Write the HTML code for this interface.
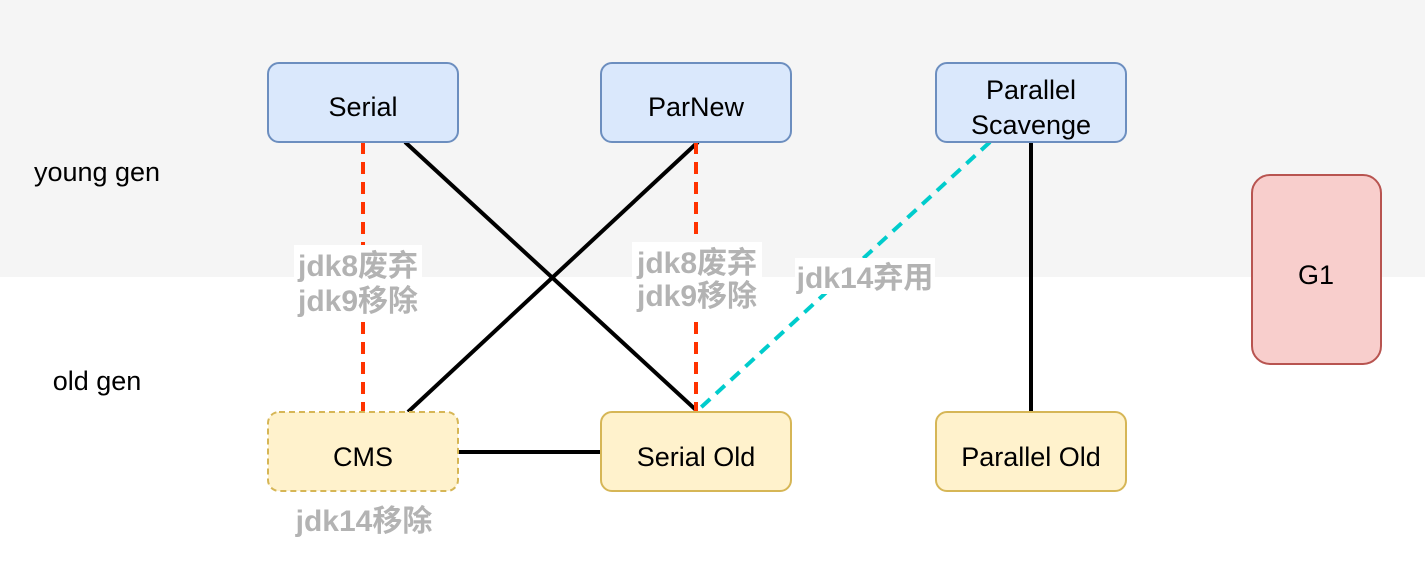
<!DOCTYPE html>
<html><head><meta charset="utf-8"><style>
body{margin:0;width:1425px;height:578px;overflow:hidden;background:#fff;font-family:"Liberation Sans","Noto Sans CJK SC",sans-serif;}
</style></head><body>
<svg width="1425" height="578" xmlns="http://www.w3.org/2000/svg" style="position:absolute;left:0;top:0">
<rect x="0" y="0" width="1425" height="277" fill="#f5f5f5"/>
<g stroke-width="4" fill="none">
<line x1="363" y1="142" x2="363" y2="412" stroke="#ff3300" stroke-dasharray="12,8"/>
<line x1="405" y1="142" x2="696" y2="410" stroke="#000"/>
<line x1="698" y1="142" x2="408" y2="412" stroke="#000"/>
<line x1="696" y1="142" x2="696" y2="412" stroke="#ff3300" stroke-dasharray="12,8"/>
<line x1="990" y1="142" x2="696" y2="412" stroke="#00cccc" stroke-dasharray="12,8"/>
<line x1="1031" y1="142" x2="1031" y2="412" stroke="#000"/>
<line x1="458" y1="452" x2="601" y2="452" stroke="#000"/>
</g>
<g stroke-width="2">
<rect x="268" y="63" width="190" height="79" rx="11" fill="#dae8fc" stroke="#6c8ebf"/>
<rect x="601" y="63" width="190" height="79" rx="11" fill="#dae8fc" stroke="#6c8ebf"/>
<rect x="936" y="63" width="190" height="79" rx="11" fill="#dae8fc" stroke="#6c8ebf"/>
<rect x="1252" y="175" width="129" height="189" rx="18" fill="#f8cecc" stroke="#b85450"/>
<rect x="268" y="412" width="190" height="79" rx="11" fill="#fff2cc" stroke="#d6b656" stroke-dasharray="6,4"/>
<rect x="601" y="412" width="190" height="79" rx="11" fill="#fff2cc" stroke="#d6b656"/>
<rect x="936" y="412" width="190" height="79" rx="11" fill="#fff2cc" stroke="#d6b656"/>
</g>
<rect x="294" y="245" width="128" height="76" fill="#fff"/>
<rect x="632" y="242" width="130" height="72" fill="#fff"/>
<rect x="795" y="258" width="140" height="36" fill="#fff"/>
<g font-size="27" fill="#000" text-anchor="middle">
<text x="363" y="116">Serial</text>
<text x="696" y="116">ParNew</text>
<text x="1031" y="99">Parallel</text>
<text x="1031" y="134">Scavenge</text>
<text x="1316" y="284">G1</text>
<text x="363" y="466">CMS</text>
<text x="696" y="466">Serial Old</text>
<text x="1031" y="466">Parallel Old</text>
<text x="97" y="181">young gen</text>
<text x="97" y="390">old gen</text>
</g>
<g font-size="30" fill="#b3b3b3" text-anchor="middle" font-weight="bold">
<text x="358" y="276">jdk8废弃</text>
<text x="358" y="311">jdk9移除</text>
<text x="697" y="273">jdk8废弃</text>
<text x="697" y="306">jdk9移除</text>
<text x="865" y="288">jdk14弃用</text>
<text x="364" y="531">jdk14移除</text>
</g>
</svg>
</body></html>
